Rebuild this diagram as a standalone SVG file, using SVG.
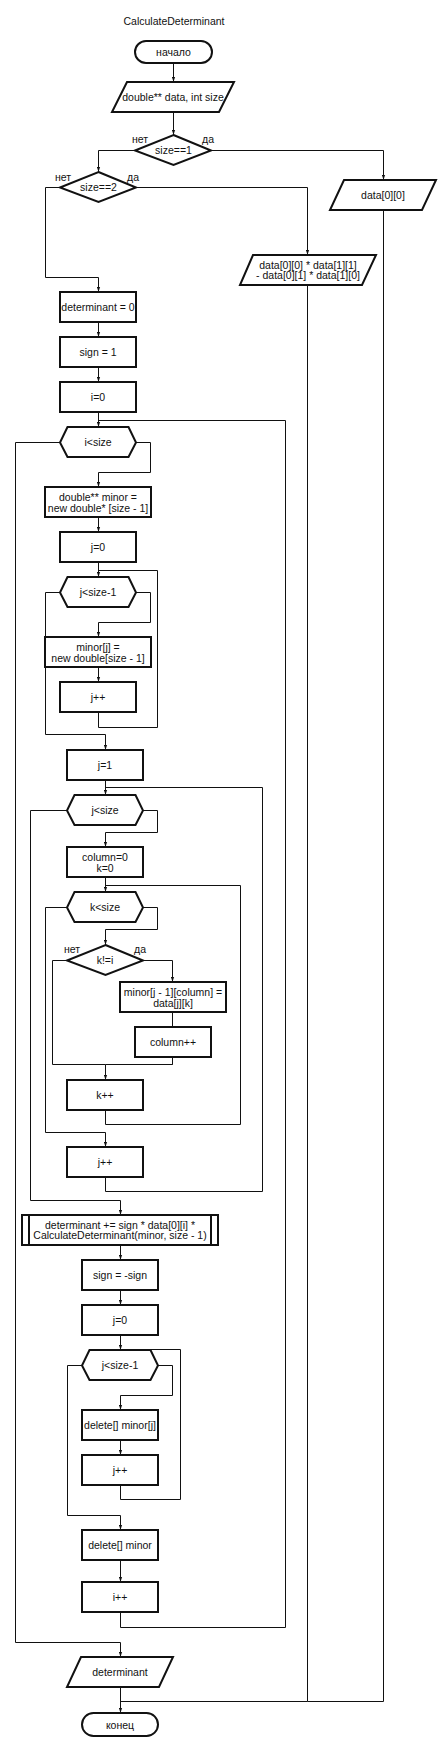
<svg xmlns="http://www.w3.org/2000/svg" width="443" height="1751" viewBox="0 0 443 1751">
<style>
.s{fill:#fff;stroke:#111;stroke-width:2}
.c{fill:none;stroke:#111;stroke-width:1}
.a{marker-end:url(#ah)}
text{font-family:"Liberation Sans",Arial,sans-serif;font-size:10.5px;fill:#111;text-anchor:middle;dominant-baseline:central}
</style>
<defs>
<marker id="ah" markerUnits="userSpaceOnUse" markerWidth="5" markerHeight="4" refX="5" refY="2" orient="auto">
<path d="M0,0.4 L5,2 L0,3.6 z" fill="#111"/>
</marker>
</defs>
<rect width="443" height="1751" fill="#fff"/>
<g id="connectors">
<path class="c a" d="M173.5,63 V82"/>
<path class="c a" d="M173.5,112 V135"/>
<path class="c a" d="M135,150.5 H98.5 V172"/>
<path class="c a" d="M211,150.5 H383.5 V180"/>
<path class="c a" d="M60,187.5 H45.5 V277.5 H98.5 V292"/>
<path class="c a" d="M136,187.5 H307.5 V255"/>
<path class="c a" d="M98.5,322 V337"/>
<path class="c a" d="M98.5,367 V382"/>
<path class="c a" d="M98.5,412 V427"/>
<path class="c a" d="M136,442.5 H150.5 V472.5 H98.5 V487"/>
<path class="c a" d="M60,442.5 H15.5 V1642.5 H120.5 V1657"/>
<path class="c a" d="M98.5,517 V532"/>
<path class="c a" d="M98.5,562 V577"/>
<path class="c a" d="M136,592.5 H150.5 V622.5 H98.5 V637"/>
<path class="c a" d="M60,592.5 H45.5 V734.5 H105.5 V750"/>
<path class="c a" d="M98.5,667 V682"/>
<path class="c" d="M98.5,712 V727.5 H157.5 V570.5 H98.5"/>
<path class="c a" d="M105.5,780 V795"/>
<path class="c a" d="M143,810.5 H157.5 V832.5 H105.5 V847"/>
<path class="c a" d="M67,810.5 H30.5 V1200.5 H120.5 V1215"/>
<path class="c a" d="M105.5,877 V892"/>
<path class="c a" d="M143,907.5 H157.5 V929.5 H105.5 V945"/>
<path class="c a" d="M67,907.5 H45.5 V1132.5 H105.5 V1147"/>
<path class="c a" d="M143,960.5 H172.5 V982"/>
<path class="c a" d="M67,960.5 H52.5 V1064.5 H105.5 V1080"/>
<path class="c" d="M172.5,1012 V1064.5 H105.5"/>
<path class="c" d="M172.5,1057 V1064.5"/>
<path class="c" d="M105.5,1110 V1124.5 H240.5 V885.5 H105.5"/>
<path class="c" d="M105.5,1177 V1191.5 H262.5 V787.5 H105.5"/>
<path class="c a" d="M120.5,1245 V1260"/>
<path class="c a" d="M120.5,1290 V1305"/>
<path class="c a" d="M120.5,1335 V1350"/>
<path class="c a" d="M158,1365.5 H172.5 V1395.5 H120.5 V1410"/>
<path class="c a" d="M82,1365.5 H67.5 V1515.5 H120.5 V1530"/>
<path class="c a" d="M120.5,1440 V1455"/>
<path class="c" d="M120.5,1485 V1499.5 H180.5 V1349.5 H120.5"/>
<path class="c a" d="M120.5,1560 V1582"/>
<path class="c" d="M120.5,1612 V1627.5 H285.5 V420.5 H98.5"/>
<path class="c a" d="M120.5,1687 V1713"/>
<path class="c" d="M307.5,285 V1701.5 H120.5"/>
<path class="c" d="M383.5,210 V1701.5 H307.5"/>
</g>
<g id="title"><text x="174" y="21">CalculateDeterminant</text></g>
<g id="start"><rect class="s" x="135" y="41" width="77" height="22" rx="11"/><text x="173.5" y="52">начало</text></g>
<g id="input"><polygon class="s" points="127,82 234,82 219,112 112,112"/><text x="173" y="97">double** data, int size</text></g>
<g id="cond1"><polygon class="s" points="173.5,135 211,150.5 173.5,165 135,150.5"/><text x="173.5" y="150">size==1</text><text x="140" y="139">нет</text><text x="208" y="139">да</text></g>
<g id="cond2"><polygon class="s" points="98.5,172 136,187.5 98.5,202 60,187.5"/><text x="98.5" y="187">size==2</text><text x="63" y="177">нет</text><text x="133" y="177">да</text></g>
<g id="out1"><polygon class="s" points="344,180 436,180 422,210 330,210"/><text x="383" y="195">data[0][0]</text></g>
<g id="out2"><polygon class="s" points="253,255 376,255 362,285 240,285"/><text x="308" y="264.5">data[0][0] * data[1][1]</text><text x="308" y="274.5">- data[0][1] * data[1][0]</text></g>
<g id="det0"><rect class="s" x="60" y="292" width="76" height="30"/><text x="98" y="307">determinant = 0</text></g>
<g id="sign1"><rect class="s" x="60" y="337" width="76" height="30"/><text x="98" y="352">sign = 1</text></g>
<g id="i0"><rect class="s" x="60" y="382" width="76" height="30"/><text x="98" y="397">i=0</text></g>
<g id="loopI"><polygon class="s" points="67.5,427 128.5,427 136,442.5 128.5,457 67.5,457 60,442.5"/><text x="98" y="442">i&lt;size</text></g>
<g id="minorAlloc"><rect class="s" x="45" y="487" width="106" height="30"/><text x="98" y="496.5">double** minor =</text><text x="98" y="507.5">new double* [size - 1]</text></g>
<g id="j0a"><rect class="s" x="60" y="532" width="76" height="30"/><text x="98" y="547">j=0</text></g>
<g id="loopJ1"><polygon class="s" points="67.5,577 128.5,577 136,592.5 128.5,607 67.5,607 60,592.5"/><text x="98" y="592">j&lt;size-1</text></g>
<g id="rowAlloc"><rect class="s" x="45" y="637" width="106" height="30"/><text x="98" y="646.5">minor[j] =</text><text x="98" y="657.5">new double[size - 1]</text></g>
<g id="jinc1"><rect class="s" x="60" y="682" width="76" height="30"/><text x="98" y="697">j++</text></g>
<g id="j1"><rect class="s" x="67" y="750" width="76" height="30"/><text x="105" y="765">j=1</text></g>
<g id="loopJ2"><polygon class="s" points="74.5,795 135.5,795 143,810.5 135.5,825 74.5,825 67,810.5"/><text x="105" y="810">j&lt;size</text></g>
<g id="colk"><rect class="s" x="67" y="847" width="76" height="30"/><text x="105" y="856.5">column=0</text><text x="105" y="867.5">k=0</text></g>
<g id="loopK"><polygon class="s" points="74.5,892 135.5,892 143,907.5 135.5,922 74.5,922 67,907.5"/><text x="105" y="907">k&lt;size</text></g>
<g id="condK"><polygon class="s" points="105.5,945 143,960.5 105.5,975 67,960.5"/><text x="105" y="960">k!=i</text><text x="72" y="949">нет</text><text x="140" y="949">да</text></g>
<g id="assign"><rect class="s" x="120" y="982" width="106" height="30"/><text x="173" y="991.5">minor[j - 1][column] =</text><text x="173" y="1002.5">data[j][k]</text></g>
<g id="colinc"><rect class="s" x="135" y="1027" width="76" height="30"/><text x="173" y="1042">column++</text></g>
<g id="kinc"><rect class="s" x="67" y="1080" width="76" height="30"/><text x="105" y="1095">k++</text></g>
<g id="jinc2"><rect class="s" x="67" y="1147" width="76" height="30"/><text x="105" y="1162">j++</text></g>
<g id="recur"><rect class="s" x="22" y="1215" width="196" height="30"/><line class="s" x1="29" y1="1215" x2="29" y2="1245"/><line class="s" x1="211" y1="1215" x2="211" y2="1245"/><text x="120" y="1224.5">determinant += sign * data[0][i] *</text><text x="120" y="1234.5">CalculateDeterminant(minor, size - 1)</text></g>
<g id="signneg"><rect class="s" x="82" y="1260" width="76" height="30"/><text x="120" y="1275">sign = -sign</text></g>
<g id="j0b"><rect class="s" x="82" y="1305" width="76" height="30"/><text x="120" y="1320">j=0</text></g>
<g id="loopJ3"><polygon class="s" points="89.5,1350 150.5,1350 158,1365.5 150.5,1380 89.5,1380 82,1365.5"/><text x="120" y="1365">j&lt;size-1</text></g>
<g id="delrow"><rect class="s" x="82" y="1410" width="76" height="30"/><text x="120" y="1425">delete[] minor[j]</text></g>
<g id="jinc3"><rect class="s" x="82" y="1455" width="76" height="30"/><text x="120" y="1470">j++</text></g>
<g id="delminor"><rect class="s" x="82" y="1530" width="76" height="30"/><text x="120" y="1545">delete[] minor</text></g>
<g id="iinc"><rect class="s" x="82" y="1582" width="76" height="30"/><text x="120" y="1597">i++</text></g>
<g id="out3"><polygon class="s" points="81,1657 173,1657 159,1687 67,1687"/><text x="120" y="1672">determinant</text></g>
<g id="end"><rect class="s" x="82" y="1713" width="76" height="23" rx="11.5"/><text x="120" y="1724.5">конец</text></g>
</svg>
